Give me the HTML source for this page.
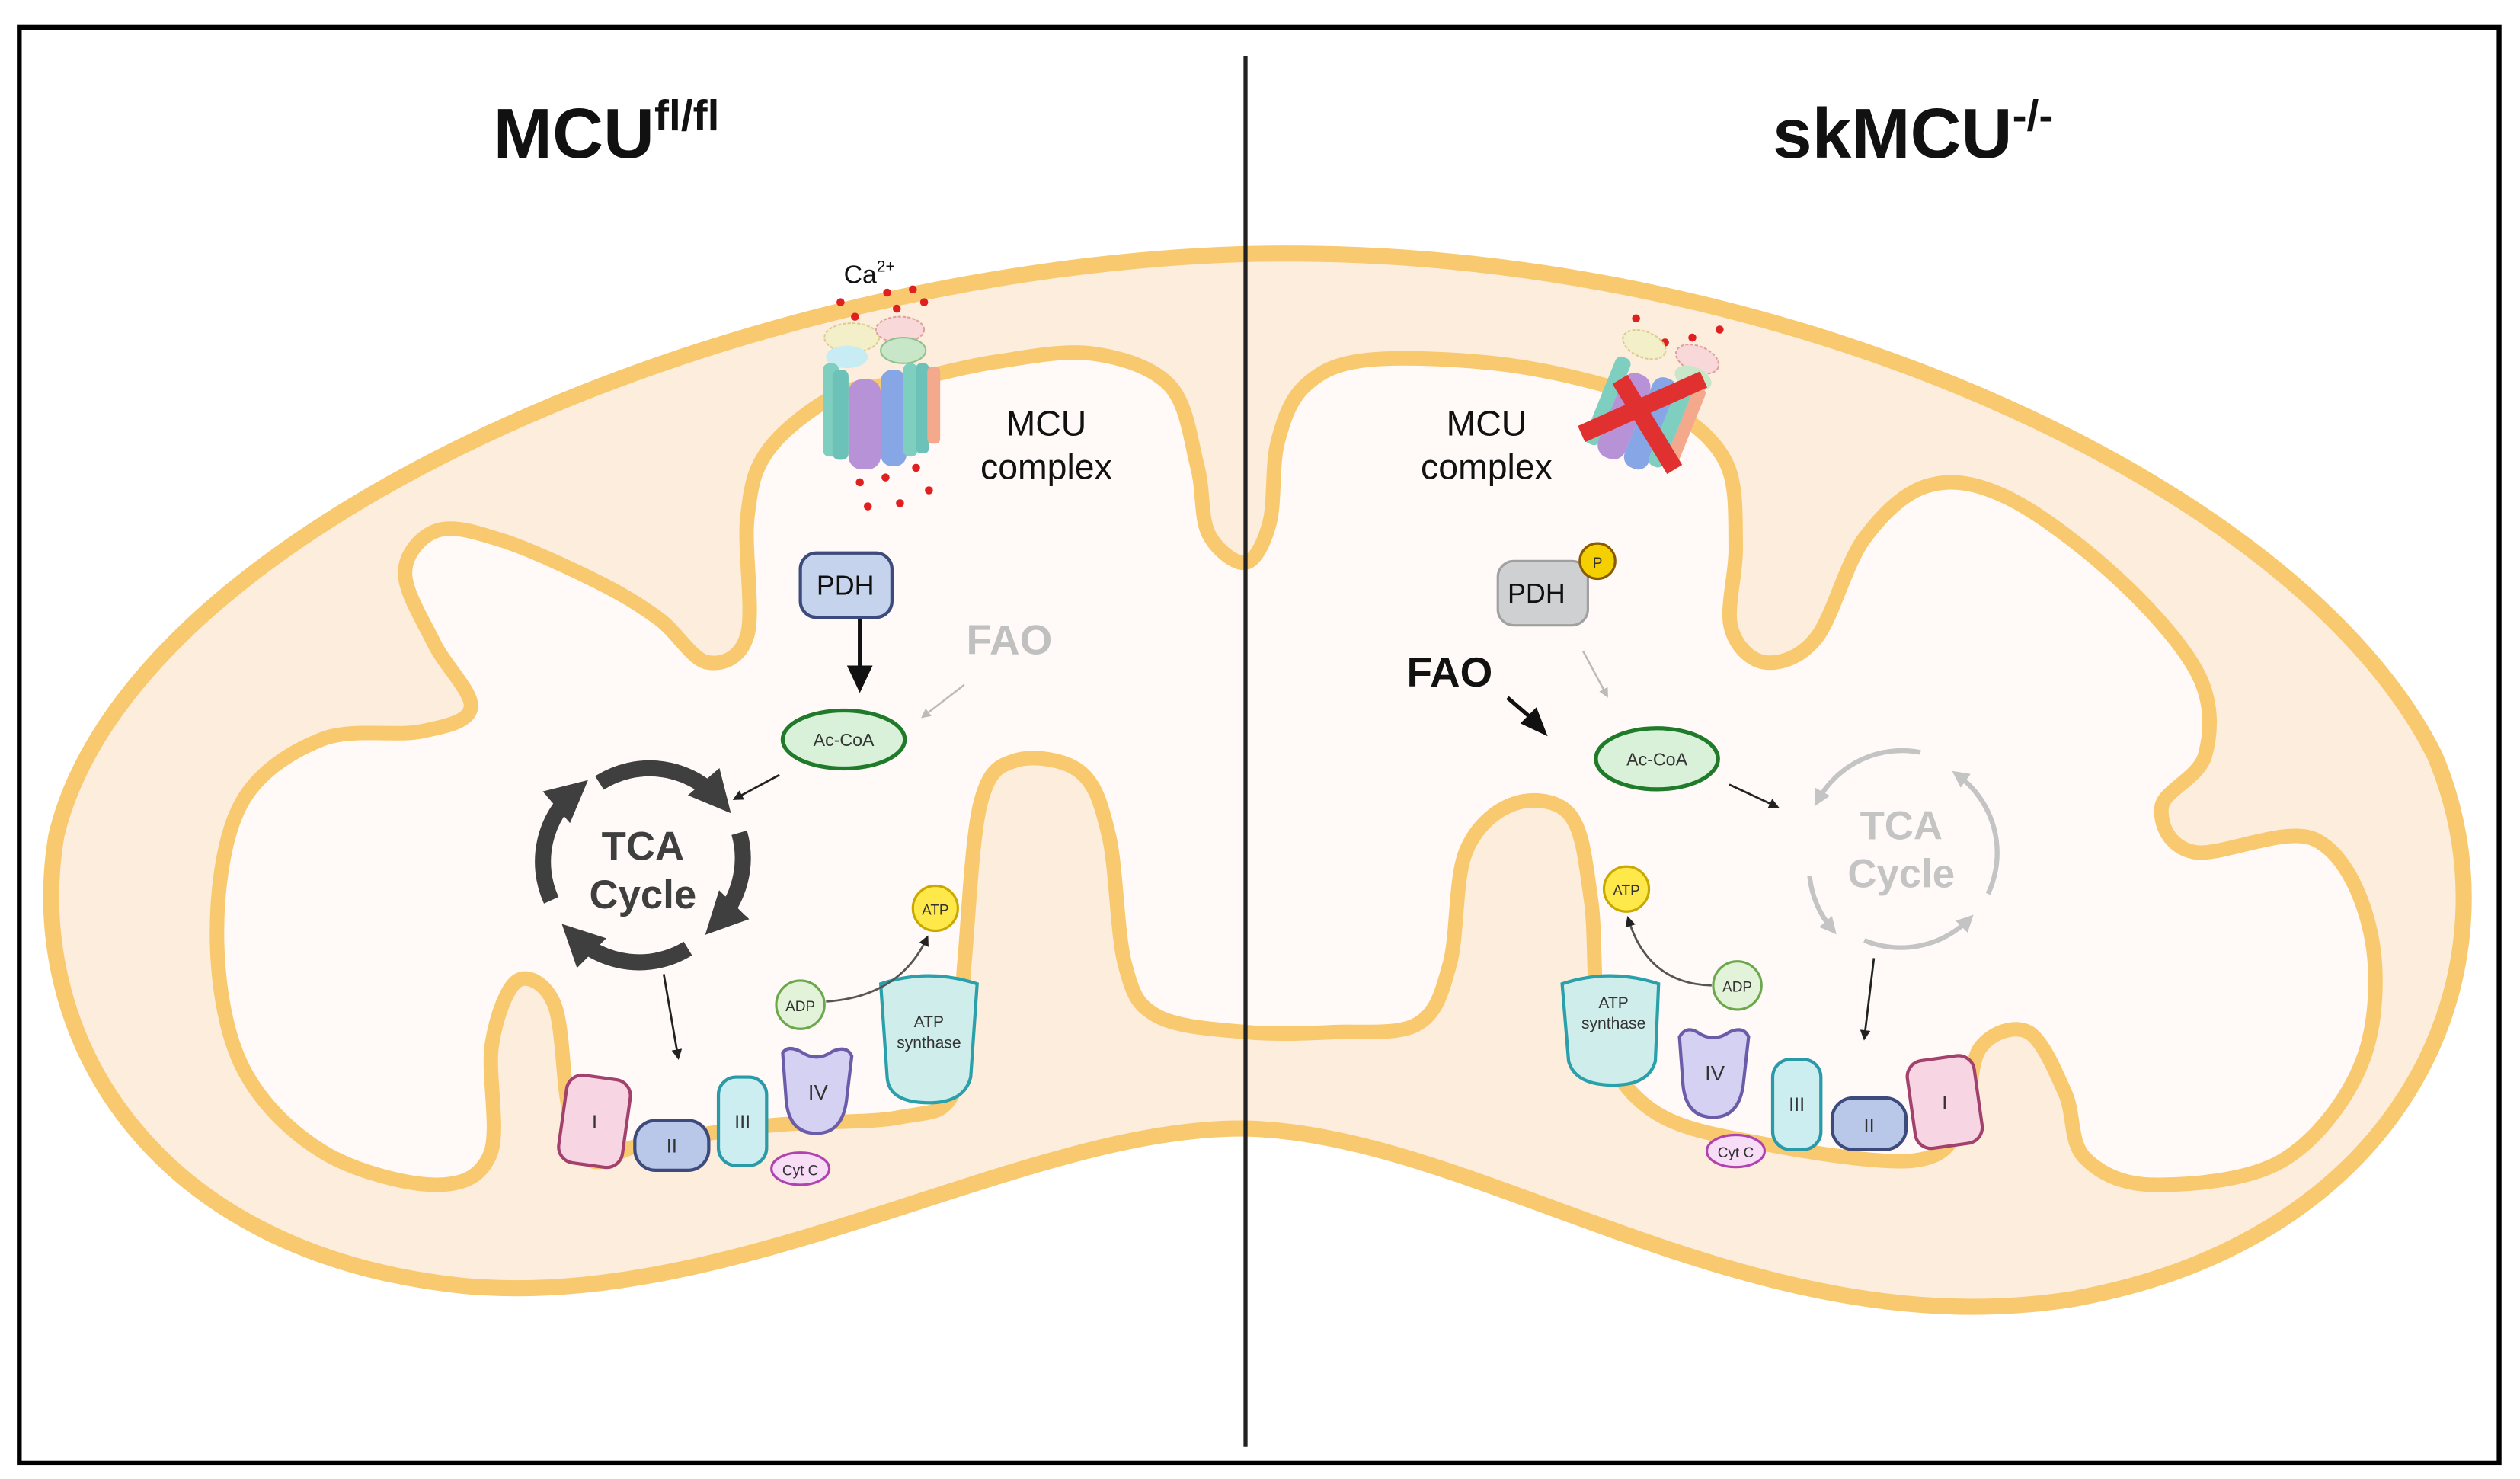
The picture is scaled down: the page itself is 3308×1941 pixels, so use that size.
<!DOCTYPE html>
<html><head><meta charset="utf-8">
<style>html,body{margin:0;padding:0;background:#fff;}svg{display:block;}
text{font-family:"Liberation Sans",sans-serif;}</style></head>
<body>
<svg id="s" width="3308" height="1941" viewBox="0 0 1568 920" preserveAspectRatio="none" xmlns="http://www.w3.org/2000/svg">
<defs>
<marker id="ab" viewBox="0 0 10 10" refX="8" refY="5" markerWidth="5" markerHeight="5" orient="auto"><path d="M0,0 L10,5 L0,10 z" fill="#222"/></marker>
<marker id="ag" viewBox="0 0 10 10" refX="8" refY="5" markerWidth="5" markerHeight="5" orient="auto"><path d="M0,0 L10,5 L0,10 z" fill="#bbb"/></marker>
<marker id="ad" viewBox="0 0 10 10" refX="6" refY="5" markerWidth="2.6" markerHeight="2.6" orient="auto"><path d="M0,0 L10,5 L0,10 z" fill="#3f3f3f"/></marker>
<marker id="al" viewBox="0 0 10 10" refX="6" refY="5" markerWidth="3.5" markerHeight="3.5" orient="auto"><path d="M0,0 L10,5 L0,10 z" fill="#c4c4c4"/></marker>
</defs>
<rect x="0" y="0" width="1568" height="920" fill="#fff"/>
<rect x="12" y="17" width="1543" height="893" fill="none" stroke="#000" stroke-width="3"/>
<!-- outer membrane -->
<path d="M775 158 C1100 150,1430 300,1515 470 C1570 600,1500 770,1290 808 C1090 840,920 705,775 702 C640 700,460 815,290 800 C90 780,15 640,35 520 C80 330,450 168,775 158 Z" fill="#FDEDDC" stroke="#F8C96E" stroke-width="10"/>
<!-- inner membrane -->
<path id="inner" d="" fill="#FFFAF8" stroke="#F8C96E" stroke-width="9" stroke-linejoin="round"/>
<line x1="775" y1="35" x2="775" y2="900" stroke="#222" stroke-width="2.5"/>
<!-- titles -->
<text x="307" y="98" font-size="44" font-weight="bold" fill="#111">MCU<tspan font-size="27" dy="-17">fl/fl</tspan></text>
<text x="1103" y="98" font-size="44" font-weight="bold" fill="#111">skMCU<tspan font-size="27" dy="-17">-/-</tspan></text>

<!-- LEFT: MCU complex -->
<text x="525" y="176" font-size="16" fill="#111">Ca<tspan font-size="10" dy="-7">2+</tspan></text>
<g fill="#e02020">
<circle cx="523" cy="188" r="2.5"/><circle cx="552" cy="182" r="2.5"/><circle cx="568" cy="180" r="2.5"/><circle cx="532" cy="197" r="2.5"/><circle cx="558" cy="192" r="2.5"/><circle cx="575" cy="188" r="2.5"/>
<circle cx="535" cy="300" r="2.5"/><circle cx="551" cy="297" r="2.5"/><circle cx="570" cy="291" r="2.5"/><circle cx="540" cy="315" r="2.5"/><circle cx="560" cy="313" r="2.5"/><circle cx="578" cy="305" r="2.5"/></g>
<g>
<ellipse cx="530" cy="210" rx="17" ry="9" fill="#f3efc8" stroke="#d8cf90" stroke-dasharray="2 1"/>
<ellipse cx="560" cy="205" rx="15" ry="8" fill="#f8d8d8" stroke="#e0a0a0" stroke-dasharray="2 1"/>
<ellipse cx="527" cy="222" rx="13" ry="7" fill="#c8ecf4"/>
<ellipse cx="562" cy="218" rx="14" ry="8" fill="#c8e6c8" stroke="#90c090"/>
<rect x="512" y="226" width="10" height="58" rx="4" fill="#7fcfc0"/>
<rect x="518" y="230" width="10" height="56" rx="4" fill="#6cc2b8"/>
<rect x="528" y="236" width="20" height="56" rx="8" fill="#b892d6"/>
<rect x="548" y="230" width="16" height="60" rx="7" fill="#86a6e6"/>
<rect x="562" y="226" width="9" height="58" rx="4" fill="#7fcfc0"/>
<rect x="570" y="226" width="8" height="56" rx="3" fill="#6cc2b8"/>
<rect x="577" y="228" width="8" height="48" rx="3" fill="#f4a98c"/>
</g>
<text x="651" y="271" font-size="22" text-anchor="middle" fill="#111">MCU</text>
<text x="651" y="298" font-size="22" text-anchor="middle" fill="#111">complex</text>
<!-- PDH -->
<rect x="498" y="344" width="57" height="40" rx="10" fill="#c6d3ec" stroke="#3d4b7c" stroke-width="2"/>
<text x="526" y="370" font-size="17" text-anchor="middle" fill="#111">PDH</text>
<line x1="535" y1="385" x2="535" y2="418" stroke="#111" stroke-width="2.5"/>
<path d="M527 414 L543 414 L535 431 Z" fill="#111"/>
<text x="628" y="407" font-size="26" font-weight="bold" text-anchor="middle" fill="#c0c0c0">FAO</text>
<line x1="600" y1="426" x2="574" y2="446" stroke="#bbb" stroke-width="1.2" marker-end="url(#ag)"/>
<ellipse cx="525" cy="460" rx="38" ry="18" fill="#d9f1d9" stroke="#1f7a2a" stroke-width="2.5"/>
<text x="525" y="464" font-size="11" text-anchor="middle" fill="#333">Ac-CoA</text>
<line x1="485" y1="482" x2="457" y2="497" stroke="#222" stroke-width="1.3" marker-end="url(#ab)"/>
<!-- TCA dark -->
<g fill="none" stroke="#3f3f3f" stroke-width="10">
<path d="M373 487 A58 58 0 0 1 448 498" marker-end="url(#ad)"/>
<path d="M460 518 A58 58 0 0 1 446 574" marker-end="url(#ad)"/>
<path d="M428 590 A58 58 0 0 1 357 582" marker-end="url(#ad)"/>
<path d="M343 560 A58 58 0 0 1 358 492" marker-end="url(#ad)"/>
</g>
<text x="400" y="535" font-size="25" font-weight="bold" text-anchor="middle" fill="#3f3f3f">TCA</text>
<text x="400" y="565" font-size="25" font-weight="bold" text-anchor="middle" fill="#3f3f3f">Cycle</text>
<line x1="413" y1="606" x2="422" y2="658" stroke="#222" stroke-width="1.3" marker-end="url(#ab)"/>
<!-- complexes left -->
<rect x="350" y="670" width="40" height="55" rx="10" fill="#f7d5e3" stroke="#a2416b" stroke-width="2" transform="rotate(8 370 697)"/>
<text x="370" y="702" font-size="12" text-anchor="middle" fill="#333">I</text>
<rect x="395" y="697" width="46" height="31" rx="13" fill="#b9c8e8" stroke="#3d4b7c" stroke-width="2"/>
<text x="418" y="717" font-size="12" text-anchor="middle" fill="#333">II</text>
<rect x="447" y="670" width="30" height="55" rx="11" fill="#cdeef1" stroke="#2a9aa8" stroke-width="2"/>
<text x="462" y="702" font-size="12" text-anchor="middle" fill="#333">III</text>
<path d="M487 655 Q490 650 498 654 Q508 661 518 654 Q527 650 530 657 L527 682 Q525 705 508 705 Q490 705 489 682 Z" fill="#d5d1f2" stroke="#6b5caa" stroke-width="2"/>
<text x="509" y="684" font-size="13" text-anchor="middle" fill="#333">IV</text>
<ellipse cx="498" cy="727" rx="18" ry="10" fill="#f7ddf6" stroke="#b043b0" stroke-width="1.5"/>
<text x="498" y="731" font-size="9" text-anchor="middle" fill="#333">Cyt C</text>
<path d="M548 612 Q578 602 608 612 L604 670 Q600 686 578 686 Q553 686 552 670 Z" fill="#cfeeeb" stroke="#2aa0aa" stroke-width="2"/>
<text x="578" y="639" font-size="10" text-anchor="middle" fill="#333">ATP</text>
<text x="578" y="652" font-size="10" text-anchor="middle" fill="#333">synthase</text>
<circle cx="498" cy="625" r="15" fill="#e3f3da" stroke="#6aa84b" stroke-width="1.5"/>
<text x="498" y="629" font-size="9" text-anchor="middle" fill="#333">ADP</text>
<circle cx="582" cy="565" r="14" fill="#ffe84a" stroke="#c9a800" stroke-width="1.5"/>
<text x="582" y="569" font-size="9" text-anchor="middle" fill="#333">ATP</text>
<path d="M514 623 Q560 620 577 583" fill="none" stroke="#555" stroke-width="1.3" marker-end="url(#ab)"/>

<!-- RIGHT -->
<g fill="#e02020"><circle cx="1022" cy="208" r="2.5"/><circle cx="1036" cy="213" r="2.5"/><circle cx="1053" cy="210" r="2.5"/><circle cx="1070" cy="205" r="2.5"/><circle cx="1018" cy="198" r="2.5"/></g>
<g transform="rotate(22 1025 255)">
<ellipse cx="1008" cy="218" rx="14" ry="8" fill="#f3efc8" stroke="#d8cf90" stroke-dasharray="2 1"/>
<ellipse cx="1042" cy="214" rx="14" ry="8" fill="#f8d8d8" stroke="#e0a0a0" stroke-dasharray="2 1"/>
<ellipse cx="1044" cy="226" rx="12" ry="7" fill="#c8e6c8"/>
<rect x="995" y="230" width="10" height="58" rx="4" fill="#7fcfc0"/>
<rect x="1004" y="236" width="18" height="56" rx="8" fill="#b892d6"/>
<rect x="1022" y="232" width="16" height="60" rx="7" fill="#86a6e6"/>
<rect x="1037" y="228" width="10" height="58" rx="4" fill="#7fcfc0"/>
<rect x="1047" y="230" width="8" height="50" rx="3" fill="#f4a98c"/>
</g>
<g stroke="#e03030" stroke-width="11"><line x1="984" y1="270" x2="1060" y2="236"/><line x1="1008" y1="236" x2="1042" y2="292"/></g>
<text x="925" y="271" font-size="22" text-anchor="middle" fill="#111">MCU</text>
<text x="925" y="298" font-size="22" text-anchor="middle" fill="#111">complex</text>
<rect x="932" y="349" width="56" height="40" rx="10" fill="#cfd0d2" stroke="#a0a0a0" stroke-width="1.5"/>
<text x="956" y="375" font-size="17" text-anchor="middle" fill="#111">PDH</text>
<circle cx="994" cy="349" r="11" fill="#f5d000" stroke="#8a5a00" stroke-width="1.5"/>
<text x="994" y="353" font-size="9" text-anchor="middle" fill="#333">P</text>
<line x1="985" y1="405" x2="1000" y2="433" stroke="#bbb" stroke-width="1.2" marker-end="url(#ag)"/>
<text x="902" y="427" font-size="26" font-weight="bold" text-anchor="middle" fill="#111">FAO</text>
<line x1="938" y1="434" x2="952" y2="446" stroke="#111" stroke-width="2.5"/>
<path d="M946 450 L956 440 L963 458 Z" fill="#111"/>
<ellipse cx="1031" cy="472" rx="38" ry="19" fill="#d9f1d9" stroke="#1f7a2a" stroke-width="2.5"/>
<text x="1031" y="476" font-size="11" text-anchor="middle" fill="#333">Ac-CoA</text>
<line x1="1076" y1="488" x2="1106" y2="502" stroke="#222" stroke-width="1.3" marker-end="url(#ab)"/>
<g fill="none" stroke="#c4c4c4" stroke-width="3">
<path d="M1195 468 A60 60 0 0 0 1131 498" marker-end="url(#al)"/>
<path d="M1237 556 A60 60 0 0 0 1218 482" marker-end="url(#al)"/>
<path d="M1126 545 A60 60 0 0 0 1140 578" marker-end="url(#al)"/>
<path d="M1160 585 A60 60 0 0 0 1225 572" marker-end="url(#al)"/>
</g>
<text x="1183" y="522" font-size="25" font-weight="bold" text-anchor="middle" fill="#c4c4c4">TCA</text>
<text x="1183" y="552" font-size="25" font-weight="bold" text-anchor="middle" fill="#c4c4c4">Cycle</text>
<line x1="1166" y1="596" x2="1160" y2="646" stroke="#222" stroke-width="1.3" marker-end="url(#ab)"/>
<path d="M972 612 Q1002 602 1032 612 L1030 660 Q1026 675 1004 675 Q980 675 976 660 Z" fill="#cfeeeb" stroke="#2aa0aa" stroke-width="2"/>
<text x="1004" y="627" font-size="10" text-anchor="middle" fill="#333">ATP</text>
<text x="1004" y="640" font-size="10" text-anchor="middle" fill="#333">synthase</text>
<path d="M1045 645 Q1049 638 1056 642 Q1066 649 1076 642 Q1085 638 1088 645 L1085 672 Q1083 695 1066 695 Q1048 695 1047 672 Z" fill="#d5d1f2" stroke="#6b5caa" stroke-width="2"/>
<text x="1067" y="672" font-size="13" text-anchor="middle" fill="#333">IV</text>
<rect x="1103" y="659" width="30" height="56" rx="11" fill="#cdeef1" stroke="#2a9aa8" stroke-width="2"/>
<text x="1118" y="691" font-size="12" text-anchor="middle" fill="#333">III</text>
<rect x="1140" y="683" width="46" height="32" rx="13" fill="#b9c8e8" stroke="#3d4b7c" stroke-width="2"/>
<text x="1163" y="704" font-size="12" text-anchor="middle" fill="#333">II</text>
<rect x="1189" y="658" width="42" height="55" rx="10" fill="#f7d5e3" stroke="#a2416b" stroke-width="2" transform="rotate(-8 1210 685)"/>
<text x="1210" y="690" font-size="12" text-anchor="middle" fill="#333">I</text>
<ellipse cx="1080" cy="716" rx="18" ry="10" fill="#f7ddf6" stroke="#b043b0" stroke-width="1.5"/>
<text x="1080" y="720" font-size="9" text-anchor="middle" fill="#333">Cyt C</text>
<circle cx="1081" cy="613" r="15" fill="#e3f3da" stroke="#6aa84b" stroke-width="1.5"/>
<text x="1081" y="617" font-size="9" text-anchor="middle" fill="#333">ADP</text>
<circle cx="1012" cy="553" r="14" fill="#ffe84a" stroke="#c9a800" stroke-width="1.5"/>
<text x="1012" y="557" font-size="9" text-anchor="middle" fill="#333">ATP</text>
<path d="M1065 613 Q1025 612 1013 571" fill="none" stroke="#555" stroke-width="1.3" marker-end="url(#ab)"/>
</svg>
<script>
var P=[[775,350],[790,325],[795,275],[812,240],[850,224],[930,226],[1000,240],[1045,258],[1075,290],[1080,340],[1077,390],[1098,412],[1130,397],[1160,335],[1200,302],[1250,310],[1318,360],[1368,420],[1372,470],[1345,502],[1365,530],[1440,522],[1475,580],[1470,660],[1420,722],[1340,737],[1297,720],[1285,680],[1262,642],[1232,652],[1220,700],[1190,722],[1100,712],[1030,692],[997,645],[990,560],[977,507],[942,500],[912,530],[902,600],[882,637],[830,642],[775,642],[720,632],[700,600],[690,520],[672,480],[632,473],[610,500],[600,600],[594,678],[560,695],[480,700],[400,712],[368,722],[354,690],[345,625],[322,610],[306,650],[305,718],[270,737],[200,716],[150,662],[135,580],[150,500],[200,460],[262,455],[293,440],[270,400],[252,356],[272,330],[312,336],[372,362],[410,385],[440,412],[465,395],[465,322],[478,280],[520,246],[560,238],[620,225],[680,220],[728,240],[745,290],[752,332]];
var n=P.length,d="M"+P[0][0]+" "+P[0][1];
for(var i=0;i<n;i++){var p0=P[(i-1+n)%n],p1=P[i],p2=P[(i+1)%n],p3=P[(i+2)%n];
d+=" C"+(p1[0]+(p2[0]-p0[0])/6).toFixed(1)+" "+(p1[1]+(p2[1]-p0[1])/6).toFixed(1)+","+(p2[0]-(p3[0]-p1[0])/6).toFixed(1)+" "+(p2[1]-(p3[1]-p1[1])/6).toFixed(1)+","+p2[0]+" "+p2[1];}
document.getElementById("inner").setAttribute("d",d+" Z");
</script>
</body></html>
